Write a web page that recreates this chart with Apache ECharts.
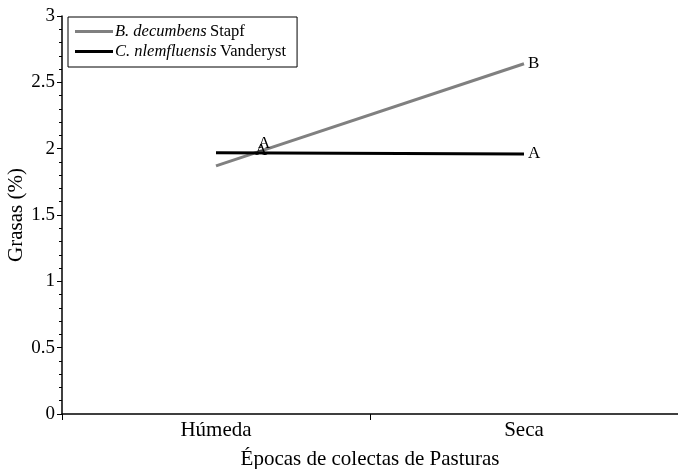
<!DOCTYPE html>
<html><head><meta charset="utf-8">
<script src="https://cdn.jsdelivr.net/npm/echarts@6/dist/echarts.min.js"></script>
<style>html,body{margin:0;padding:0;background:#fff}#c{width:678px;height:469px}</style>
</head><body><div id="c"></div>
<script>
var categories = ['Húmeda', 'Seca'];
var seriesNames = ['B. decumbens', 'C. nlemfluensis'];
var authorities = ['Stapf', 'Vanderyst'];
var bDecumbens = [1.87, 2.64];
var cNlemfluensis = [1.97, 1.96];
var bLabels = ['A', 'B'];
var cLabels = ['A', 'A'];
var yTicks = [0, 0.5, 1, 1.5, 2, 2.5, 3];

var font = 'Liberation Serif, Times New Roman, serif';
var chart = echarts.init(document.getElementById('c'));

function mkData(vals, labs, offsets) {
  return vals.map(function (v, i) {
    return { value: v, label: { show: true, formatter: labs[i], offset: offsets[i] } };
  });
}

chart.setOption({
  animation: false,
  grid: { left: 62, right: 0, top: 16, bottom: 55, outerBoundsMode: 'none', containLabel: false },
  legend: {
    left: 68, top: 17, orient: 'vertical', itemGap: 3,
    padding: [6, 11, 7, 7],
    borderColor: '#000', borderWidth: 1,
    itemWidth: 38, itemHeight: 3, icon: 'rect',
    data: seriesNames,
    formatter: function (n) {
      var i = seriesNames.indexOf(n);
      return '{i|' + n + '} {r|' + authorities[i] + '}';
    },
    textStyle: {
      padding: [0, 0, 0, -3],
      rich: {
        i: { fontFamily: font, fontStyle: 'italic', fontSize: 16.5, color: '#000' },
        r: { fontFamily: font, fontSize: 16.5, color: '#000' }
      }
    }
  },
  xAxis: {
    type: 'category', data: categories, boundaryGap: true,
    name: 'Épocas de colectas de Pasturas', nameLocation: 'middle', nameGap: 35,
    nameMoveOverlap: false,
    nameTextStyle: { fontFamily: font, fontSize: 21, color: '#000' },
    axisLine: { lineStyle: { color: '#000', width: 1.5 } },
    axisTick: { show: true, length: 6, lineStyle: { color: '#000' } },
    axisLabel: { fontFamily: font, fontSize: 21, color: '#000', margin: 6 }
  },
  yAxis: {
    type: 'value', min: 0, max: 3, interval: 0.5,
    name: 'Grasas (%)', nameLocation: 'middle', nameGap: 35,
    nameMoveOverlap: false,
    nameTextStyle: { fontFamily: font, fontSize: 21, color: '#000' },
    axisLine: { show: true, lineStyle: { color: '#000', width: 1.5 } },
    axisTick: { show: true, length: 5, lineStyle: { color: '#000' } },
    minorTick: { show: true, splitNumber: 5, length: 3, lineStyle: { color: '#000' } },
    splitLine: { show: false },
    axisLabel: { fontFamily: font, fontSize: 19, color: '#000', margin: 7 }
  },
  series: [
    {
      name: seriesNames[0], type: 'line', symbol: 'circle', symbolSize: 0, showSymbol: true,
      lineStyle: { color: '#808080', width: 3 }, itemStyle: { color: '#808080' },
      label: { show: true, position: 'right', distance: 4, fontFamily: font, fontSize: 17, color: '#000' },
      data: mkData(bDecumbens, bLabels, [[38, -22], [0, 0]])
    },
    {
      name: seriesNames[1], type: 'line', symbol: 'circle', symbolSize: 0, showSymbol: true,
      lineStyle: { color: '#000', width: 3 }, itemStyle: { color: '#000' },
      label: { show: true, position: 'right', distance: 4, fontFamily: font, fontSize: 17, color: '#000' },
      data: mkData(cNlemfluensis, cLabels, [[35, -2], [0, 0]])
    }
  ]
});
</script></body></html>
